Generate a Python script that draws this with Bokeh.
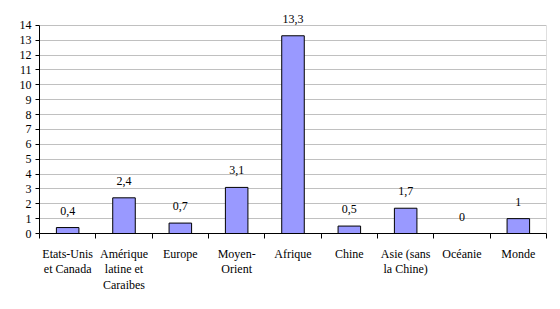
from bokeh.plotting import figure
from bokeh.models import FixedTicker, ColumnDataSource, Range1d, LabelSet
from bokeh.embed import file_html
from bokeh.resources import INLINE

categories = ["Etats-Unis\net Canada", "Amérique\nlatine et\nCaraibes", "Europe", "Moyen-\nOrient",
              "Afrique", "Chine", "Asie (sans\nla Chine)", "Océanie", "Monde"]
values = [0.4, 2.4, 0.7, 3.1, 13.3, 0.5, 1.7, 0, 1]
value_labels = ["0,4", "2,4", "0,7", "3,1", "13,3", "0,5", "1,7", "0", "1"]
y_ticks = list(range(0, 15))

FONT = "Liberation Serif"
n = len(categories)
xs = [i + 0.5 for i in range(n)]
y_max = y_ticks[-1]

p = figure(width=560, height=309, output_backend="svg", toolbar_location=None,
           x_range=Range1d(0, n), y_range=Range1d(0, y_max + 1.0),
           min_border_left=39, min_border_right=14, min_border_top=10, min_border_bottom=76)
p.background_fill_color = "white"
p.border_fill_color = "white"
p.outline_line_color = None

# right border of plot area
p.segment(x0=[n], y0=[0], x1=[n], y1=[y_max], line_color="#c0c0c0", line_width=1)

src = ColumnDataSource(dict(x=xs, top=values, lab=value_labels))
p.vbar(x="x", top="top", bottom=0, width=0.4, source=src,
       fill_color="#9999ff", line_color="black", line_width=1)
labels = LabelSet(x="x", y="top", text="lab", source=src, text_font=FONT,
                  text_font_size="12px", text_align="center", text_baseline="middle",
                  y_offset=17, text_color="black")
p.add_layout(labels)

# grid
p.xgrid.visible = False
p.ygrid.ticker = FixedTicker(ticks=y_ticks)
p.ygrid.grid_line_color = "#c0c0c0"
p.ygrid.grid_line_width = 1

# y axis
ya = p.yaxis[0]
ya.ticker = FixedTicker(ticks=y_ticks)
ya.bounds = (0, y_max)
ya.axis_line_color = "black"
ya.major_tick_line_color = "black"
ya.major_tick_in = 0
ya.major_tick_out = 4
ya.minor_tick_line_color = None
ya.major_label_text_font = FONT
ya.major_label_text_font_size = "12px"
ya.major_label_text_color = "black"
ya.major_label_standoff = 4

# x axis
xa = p.xaxis[0]
xa.ticker = FixedTicker(ticks=xs, minor_ticks=list(range(0, n + 1)))
xa.major_label_overrides = {x: c for x, c in zip(xs, categories)}
xa.axis_line_color = "black"
xa.major_tick_line_color = None
xa.major_tick_in = 0
xa.major_tick_out = 0
xa.minor_tick_line_color = "black"
xa.minor_tick_in = 0
xa.minor_tick_out = 5
xa.major_label_text_font = FONT
xa.major_label_text_font_size = "12px"
xa.major_label_text_color = "black"
xa.major_label_standoff = 8
xa.major_label_text_line_height = 1.12

open("out.html", "w").write(file_html(p, INLINE))
